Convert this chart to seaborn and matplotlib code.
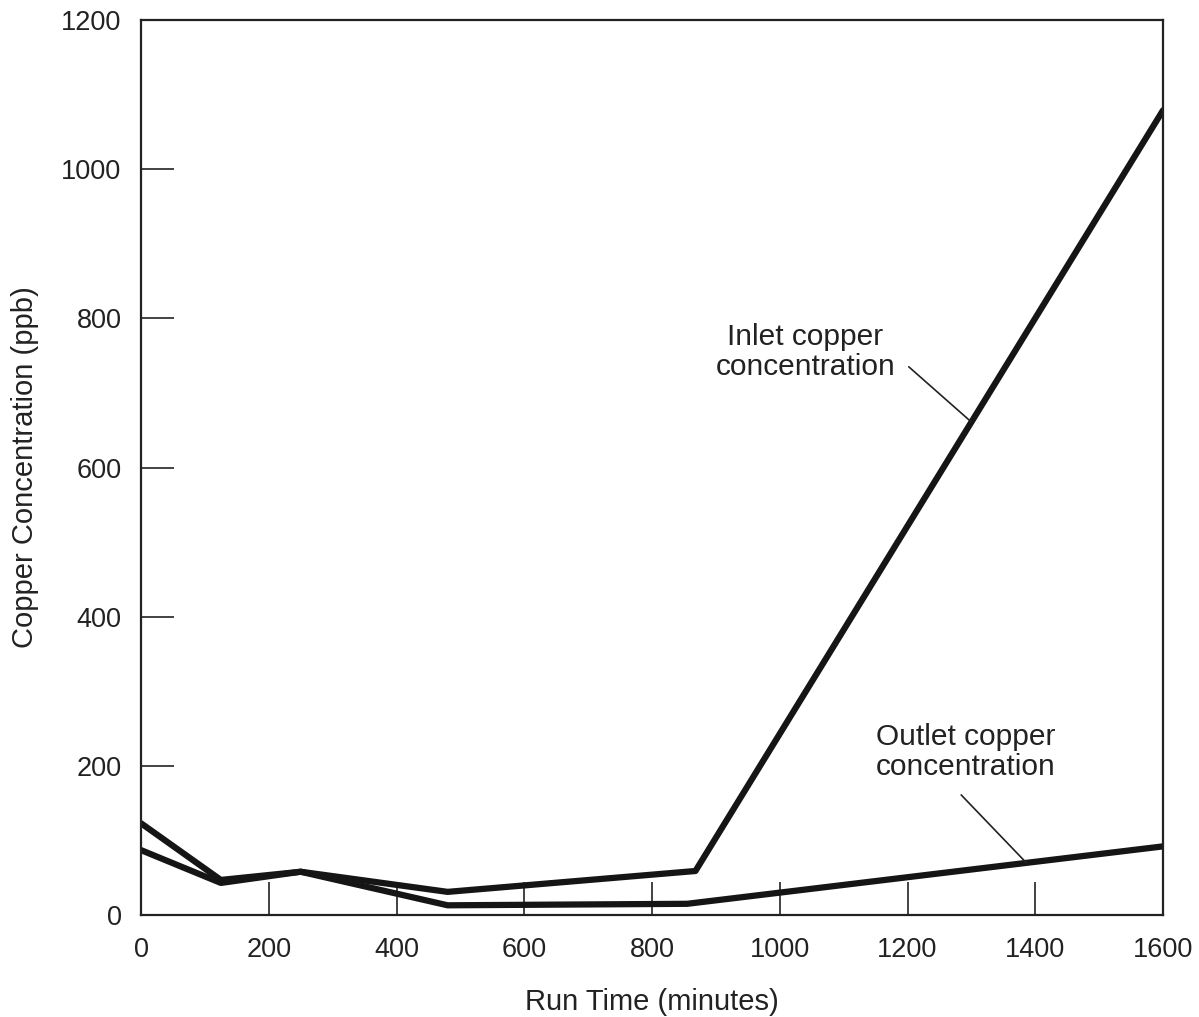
import matplotlib
matplotlib.use("Agg")
import matplotlib.pyplot as plt
import seaborn as sns
import pandas as pd

# Data
inlet_time = [0, 125, 250, 480, 868, 1600]
inlet_conc = [123, 47, 58, 31, 59, 1079]
outlet_time = [0, 125, 250, 480, 855, 1600]
outlet_conc = [87, 43, 58, 13, 15, 92]

x_ticks = [0, 200, 400, 600, 800, 1000, 1200, 1400, 1600]
y_ticks = [0, 200, 400, 600, 800, 1000, 1200]

df = pd.concat([
    pd.DataFrame({"time": inlet_time, "conc": inlet_conc, "series": "Inlet"}),
    pd.DataFrame({"time": outlet_time, "conc": outlet_conc, "series": "Outlet"}),
])

sns.set_style("white")
plt.rcParams["font.family"] = ["Liberation Sans", "DejaVu Sans"]

fig = plt.figure(figsize=(11.99, 10.17), dpi=100)
ax = fig.add_axes([0.1176, 0.1003, 0.8524, 0.8800])

ink = "#151515"
txt = "#222222"
sns.lineplot(data=df, x="time", y="conc", hue="series", palette=[ink, ink],
             linewidth=4.5, legend=False, ax=ax, sort=False)

ax.set_xlim(0, 1600)
ax.set_ylim(0, 1200)
ax.set_xticks(x_ticks)
ax.set_yticks(y_ticks)
ax.tick_params(axis="both", which="major", bottom=True, left=True,
               direction="in", length=24, width=1.2, color=txt,
               labelsize=19.5, pad=14, labelcolor=txt)
ax.tick_params(axis="x", pad=16)
for s in ax.spines.values():
    s.set_linewidth(1.6)
    s.set_color(txt)

ax.set_xlabel("Run Time (minutes)", fontsize=21, color=txt, labelpad=18)
ax.set_ylabel("Copper Concentration (ppb)", fontsize=21, color=txt, labelpad=16)

# annotation texts
ax.text(1040, 755, "Inlet copper\nconcentration", fontsize=21.5, color=txt,
        ha="center", va="center", linespacing=1.1)
ax.text(1291, 219, "Outlet copper\nconcentration", fontsize=21.5, color=txt,
        ha="center", va="center", linespacing=1.1)
# leader lines
ax.annotate("", xy=(1300, 661), xytext=(1202, 735),
            arrowprops=dict(arrowstyle="-", color=txt, lw=1.2, shrinkA=0, shrinkB=0))
ax.annotate("", xy=(1386, 70), xytext=(1284, 161),
            arrowprops=dict(arrowstyle="-", color=txt, lw=1.2, shrinkA=0, shrinkB=0))

fig.savefig("out.png", dpi=100)
